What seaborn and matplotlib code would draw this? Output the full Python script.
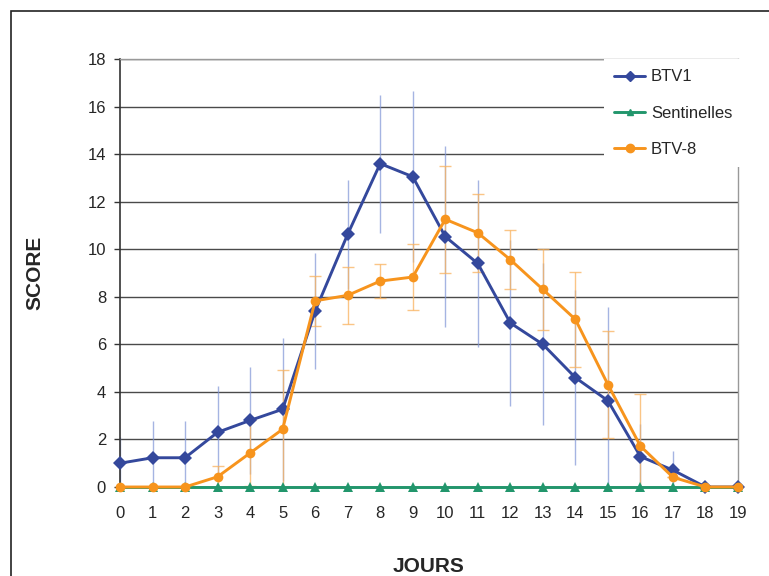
"""Score clinique moyen par jour : BTV1, BTV-8 et sentinelles."""
import matplotlib.pyplot as plt
import matplotlib.patches as mpatches
import pandas as pd
import seaborn as sns

sns.set_style("white")
plt.rcParams["font.family"] = ["Liberation Sans", "DejaVu Sans"]
plt.rcParams["font.size"] = 12

jours = list(range(20))
btv1 = [1.0, 1.23, 1.23, 2.3, 2.8, 3.27, 7.4, 10.63, 13.6, 13.05,
        10.53, 9.4, 6.9, 6.0, 4.6, 3.63, 1.28, 0.71, 0.0, 0.0]
btv1_err = [1.1, 1.53, 1.53, 1.96, 2.26, 3.0, 2.45, 2.3, 2.9, 3.6,
            3.8, 3.5, 3.5, 3.4, 3.68, 3.93, 1.37, 0.8, 0.0, 0.0]
sentinelles = [0.0] * 20
btv8 = [0.0, 0.0, 0.0, 0.43, 1.43, 2.43, 7.83, 8.06, 8.66, 8.83,
        11.26, 10.69, 9.56, 8.31, 7.05, 4.31, 1.72, 0.41, 0.0, 0.0]
btv8_err = [0.0, 0.0, 0.0, 0.46, 1.4, 2.47, 1.06, 1.2, 0.73, 1.37,
            2.25, 1.63, 1.24, 1.7, 2.0, 2.24, 2.2, 0.0, 0.0, 0.0]

series = ["BTV1", "Sentinelles", "BTV-8"]
palette = {"BTV1": "#34489c", "Sentinelles": "#22966c", "BTV-8": "#f7941d"}
markers = {"BTV1": "D", "Sentinelles": "^", "BTV-8": "o"}

df = pd.DataFrame({
    "Jour": jours * 3,
    "Score": btv1 + sentinelles + btv8,
    "Groupe": ["BTV1"] * 20 + ["Sentinelles"] * 20 + ["BTV-8"] * 20,
})

fig = plt.figure(figsize=(7.69, 5.76), dpi=100)
ax = fig.add_axes([120 / 769, 1 - 487 / 576, 618 / 769, 428 / 576])

# error bars first, behind the lines
ax.errorbar(jours, btv1, yerr=btv1_err, fmt="none", ecolor="#7f95d6",
            elinewidth=1.0, alpha=0.7, capsize=0, zorder=1)
ax.errorbar(jours, btv8, yerr=btv8_err, fmt="none", ecolor="#f9b25e",
            elinewidth=1.0, alpha=0.75, capsize=4, capthick=1.0, zorder=1.2)

sns.lineplot(data=df, x="Jour", y="Score", hue="Groupe", style="Groupe",
             hue_order=series, style_order=series, palette=palette,
             markers=markers, dashes=False, linewidth=2.1, markersize=7,
             markeredgewidth=0, ax=ax, clip_on=False, zorder=3, legend=False)

ax.set_xlim(0, 19)
ax.set_ylim(0, 18)
ax.set_xticks(jours)
ax.set_yticks(range(0, 19, 2))
ax.yaxis.grid(True, color="#4a4a4a", linewidth=1.0)
ax.xaxis.grid(False)
ax.set_axisbelow(True)

for side in ["top", "right"]:
    ax.spines[side].set_color("#999999")
    ax.spines[side].set_linewidth(1.0)
ax.spines["left"].set_color("#333333")
ax.spines["left"].set_linewidth(1.2)
ax.spines["bottom"].set_color("#333333")

ax.tick_params(axis="y", direction="out", length=4.5, width=1, pad=5.5,
               left=True, labelsize=12, color="#333333")
ax.tick_params(axis="x", direction="out", length=3, width=1, pad=11,
               bottom=True, labelsize=12, color="#333333")

ax.set_xlabel("JOURS", fontsize=15, fontweight="bold")
ax.set_ylabel("SCORE", fontsize=15, fontweight="bold")
ax.xaxis.set_label_coords(0.5, -0.163)
ax.yaxis.set_label_coords(-0.122, 0.5)

handles = [plt.Line2D([], [], color=palette[s], marker=markers[s],
                      markersize=5 if s != "BTV-8" else 6,
                      linewidth=2.1, label=s) for s in series]
leg = ax.legend(handles=handles, loc="upper left",
                bbox_to_anchor=(596 / 769, 1 - 51 / 576),
                bbox_transform=fig.transFigure, frameon=True,
                facecolor="white", edgecolor="none", framealpha=1,
                fancybox=False, fontsize=12, handlelength=1.85,
                handletextpad=0.35, labelspacing=1.27, borderpad=0.6)

# frame around the whole figure
fig.patches.append(mpatches.Rectangle(
    (11 / 769, -0.1), 2, 1.1 - 11 / 576, transform=fig.transFigure,
    fill=False, edgecolor="#222222", linewidth=1.2))

fig.savefig("out.png", dpi=100)
